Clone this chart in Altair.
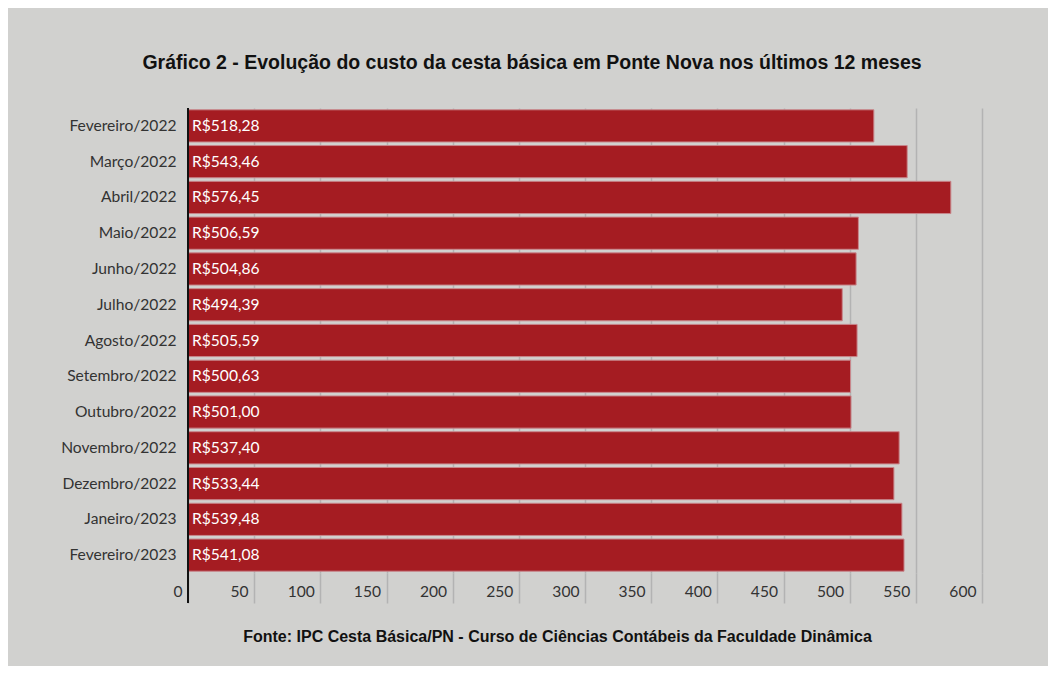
import altair as alt
import pandas as pd

months = [
    "Fevereiro/2022", "Março/2022", "Abril/2022", "Maio/2022", "Junho/2022",
    "Julho/2022", "Agosto/2022", "Setembro/2022", "Outubro/2022",
    "Novembro/2022", "Dezembro/2022", "Janeiro/2023", "Fevereiro/2023",
]
values = [518.28, 543.46, 576.45, 506.59, 504.86, 494.39, 505.59, 500.63,
          501.00, 537.40, 533.44, 539.48, 541.08]
x_ticks = [0, 50, 100, 150, 200, 250, 300, 350, 400, 450, 500, 550, 600]

title_text = "Gráfico 2 - Evolução do custo da cesta básica em Ponte Nova nos últimos 12 meses"
source_text = "Fonte: IPC Cesta Básica/PN - Curso de Ciências Contábeis da Faculdade Dinâmica"

df = pd.DataFrame({"mes": months, "custo": values})
df["rotulo"] = ["R$" + f"{v:.2f}".replace(".", ",") for v in values]

x_scale = alt.Scale(domain=[0, 600], nice=False, zero=True)
y_enc = alt.Y(
    "mes:N", sort=months,
    scale=alt.Scale(paddingInner=0.1, paddingOuter=0.05),
    axis=alt.Axis(title=None, domain=False, ticks=False, labelFont="Lato",
                  labelFontSize=15.6, labelColor="#333333", labelPadding=12),
)

bars = alt.Chart(df).mark_bar(color="#a51c22", stroke="#c8868b", strokeWidth=1).encode(
    x=alt.X(
        "custo:Q", scale=x_scale,
        axis=alt.Axis(
            values=x_ticks, title=source_text, grid=True, gridColor="#b3b3b3",
            gridWidth=1.5, domain=False, tickColor="#b3b3b3", tickWidth=1.5,
            tickSize=30, labelAlign="right", labelOffset=-6, labelPadding=-19,
            labelBaseline="top", labelFont="Lato", labelFontSize=15.6,
            labelColor="#333333", labelFlush=False, labelOverlap=False,
            titleFont="Liberation Sans", titleFontSize=16, titleFontWeight="bold",
            titleColor="#111111", titleX=369, titleY=63, titleAlign="center",
            titleBaseline="middle",
        ),
    ),
    y=y_enc,
)

labels = alt.Chart(df).mark_text(
    align="left", baseline="middle", dx=4, color="white", font="Lato", fontSize=15.6
).encode(
    x=alt.datum(0),
    y=alt.Y("mes:N", sort=months),
    text="rotulo:N",
)

axis_line = alt.Chart(df).transform_filter(
    alt.datum.mes == months[0]
).mark_rule(color="#111111", strokeWidth=2).encode(
    x=alt.datum(0), y=alt.value(0), y2=alt.value(495)
)

chart = alt.layer(bars, labels, axis_line).properties(
    width=794,
    height=465,
    padding={"left": 180, "top": 100, "right": 66, "bottom": 93},
    autosize=alt.AutoSizeParams(type="none"),
    background="#d1d1cf",
    title=alt.Title(title_text, font="Liberation Sans", fontSize=19.5,
                    fontWeight="bold", color="#111111", anchor="middle",
                    dx=-53, offset=34),
).configure_view(stroke=None)

chart.save("out.html", embed_options={"renderer": "svg", "actions": False})
